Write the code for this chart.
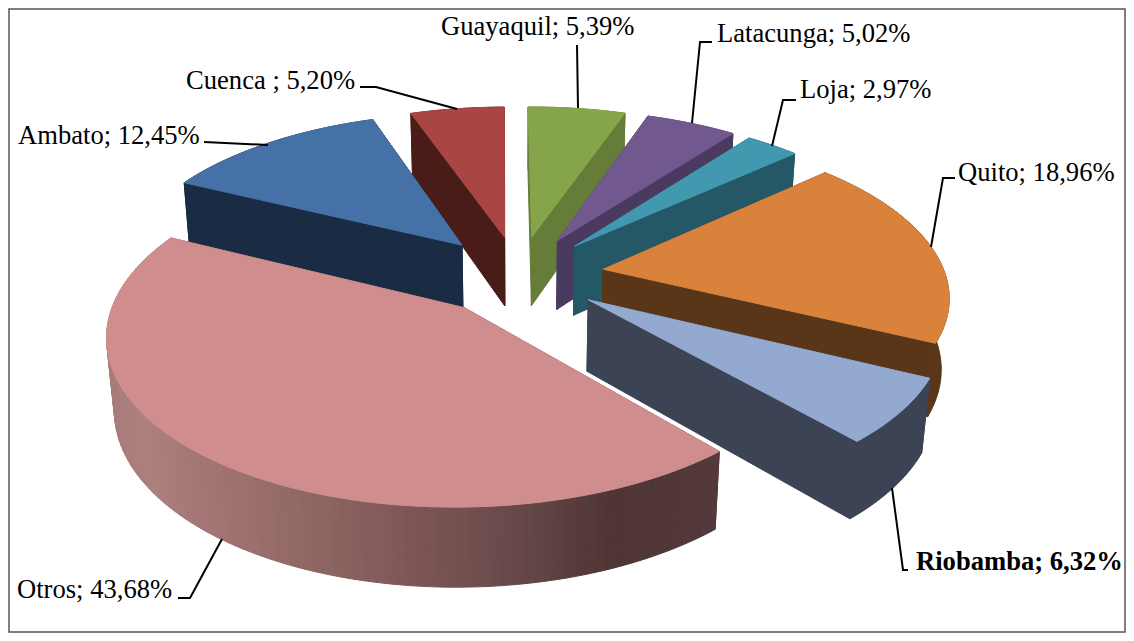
import numpy as np, pandas as pd, altair as alt

cities = ["Guayaquil", "Latacunga", "Loja", "Quito", "Riobamba", "Otros", "Ambato", "Cuenca"]
shares = [5.39, 5.02, 2.97, 18.96, 6.32, 43.68, 12.45, 5.20]
labels = ["Guayaquil; 5,39%", "Latacunga; 5,02%", "Loja; 2,97%", "Quito; 18,96%",
          "Riobamba; 6,32%", "Otros; 43,68%", "Ambato; 12,45%", "Cuenca ; 5,20%"]
top_colors = ["#86A44A", "#71588F", "#4198AF", "#D9823B", "#93A9CF", "#CF8E8D", "#4571A6", "#A94543"]
wall_colors = ["#667D39", "#4A3A60", "#245866", "#5A3618", "#3B4355", "#6B4C4D", "#1A2C44", "#4A1C17"]
explode = [0.2487, 0.2505, 0.2497, 0.2517, 0.2516, 0.252, 0.2556, 0.2477]
draw_order = ["Cuenca", "Guayaquil", "Latacunga", "Loja", "Ambato", "Quito", "Riobamba", "Otros"]

# camera of the 3-D pie
CX, CY, F, D, PHI, H, A0 = 518.36, 274.85, 2059.74, 6.0224, 0.485, 0.2368, -0.0066
grad_x = [112, 141, 222, 304, 426, 508, 610, 716]
grad_c = [(0xA8, 0x7C, 0x7A), (0xAD, 0x7F, 0x7E), (0xA0, 0x72, 0x71), (0x8F, 0x68, 0x64),
          (0x7B, 0x53, 0x54), (0x68, 0x4A, 0x4A), (0x50, 0x35, 0x35), (0x53, 0x39, 0x3A)]

sh = np.array(shares) / sum(shares)
cum = np.concatenate([[0], np.cumsum(sh)]) * 2 * np.pi

def proj(i, r, a, bottom):
    b = (cum[i] + cum[i + 1]) / 2 + A0
    X = explode[i] * np.sin(b) + r * np.sin(a)
    Y = explode[i] * np.cos(b) + r * np.cos(a)
    Z = -H * bottom
    w = D + Y * np.cos(PHI) - Z * np.sin(PHI)
    sy = Y * np.sin(PHI) + Z * np.cos(PHI)
    return CX + F * X / w, CY - F * sy / w

rows = []
pid = 0
def add(xs, ys, col):
    global pid
    xs = list(xs) + [xs[0]]
    ys = list(ys) + [ys[0]]
    for k, (x, y) in enumerate(zip(xs, ys)):
        rows.append({"poly": pid, "k": k, "x": float(x), "y": float(y), "c": col})
    pid += 1

def hexcol(x):
    ch = [int(round(np.interp(x, grad_x, [c[j] for c in grad_c]))) for j in range(3)]
    return "#%02X%02X%02X" % tuple(ch)

for name in draw_order:
    i = cities.index(name)
    a0, a1 = cum[i] + A0, cum[i + 1] + A0
    ang = np.linspace(a0, a1, max(6, int(sh[i] * 240)) + 1)
    ax, ay = proj(i, 0, 0, 0)
    bx, by = proj(i, 0, 0, 1)
    for a in (a0, a1):
        px, py = proj(i, 1, a, 0)
        qx, qy = proj(i, 1, a, 1)
        add([ax, px, qx, bx], [ay, py, qy, by], wall_colors[i])
    tx, ty = proj(i, 1, ang, 0)
    ux, uy = proj(i, 1, ang, 1)
    if name == "Otros":
        for j in range(len(ang) - 1):
            add([tx[j], tx[j + 1], ux[j + 1], ux[j]], [ty[j], ty[j + 1], uy[j + 1], uy[j]],
                hexcol((tx[j] + tx[j + 1]) / 2))
    else:
        add(list(tx) + list(ux[::-1]), list(ty) + list(uy[::-1]), wall_colors[i])
    add([ax] + list(tx), [ay] + list(ty), top_colors[i])

polys = pd.DataFrame(rows)

leaders = [
    [(577, 45), (578, 108)],
    [(712, 42), (700, 42), (692, 123)],
    [(796, 100), (783, 100), (772, 146)],
    [(955, 178), (943, 178), (931, 247)],
    [(908, 570), (903, 570), (892, 488)],
    [(178, 598), (190, 598), (222, 539)],
    [(204, 142), (268, 145)],
    [(360, 87), (376, 87), (457, 109)],
]
lead = pd.DataFrame([{"id": n, "k": k, "x": x, "y": y}
                     for n, l in enumerate(leaders) for k, (x, y) in enumerate(l)])

label_x = [441, 717, 800, 958, 916, 17, 18, 186]
label_y = [35, 42, 98, 181, 570, 598, 144, 89]
text = pd.DataFrame({"t": labels, "x": label_x, "y": label_y,
                     "w": ["bold" if c == "Riobamba" else "normal" for c in cities]})

W, HH = 1116, 623
xs = alt.Scale(domain=[9, 9 + W], range=[0, W])
ys = alt.Scale(domain=[9, 9 + HH], range=[0, HH])
X = alt.X("x:Q", scale=xs, axis=None)
Y = alt.Y("y:Q", scale=ys, axis=None)

pie = alt.Chart(polys).mark_line(filled=True, strokeWidth=1, interpolate="linear").encode(
    x=X, y=Y, detail="poly:N", order="k:Q",
    fill=alt.Fill("c:N", scale=None), stroke=alt.Stroke("c:N", scale=None))
lines = alt.Chart(lead).mark_line(color="black", strokeWidth=2).encode(x=X, y=Y, detail="id:N", order="k:Q")
norm = alt.Chart(text[text.w == "normal"]).mark_text(
    align="left", baseline="alphabetic", font="Liberation Serif", fontSize=26.6, color="black"
).encode(x=X, y=Y, text="t:N")
bold = alt.Chart(text[text.w == "bold"]).mark_text(
    align="left", baseline="alphabetic", font="Liberation Serif", fontSize=26.6, fontWeight="bold", color="black"
).encode(x=X, y=Y, text="t:N")

chart = alt.layer(pie, lines, norm, bold).properties(
    width=W, height=HH, padding={"left": 1, "top": 1, "right": 1, "bottom": 1},
    autosize=alt.AutoSizeParams(type="none"), background="white"
).configure_view(stroke="#555555", strokeWidth=1.5)
chart.save("out.html", embed_options={"renderer": "svg", "actions": False})
